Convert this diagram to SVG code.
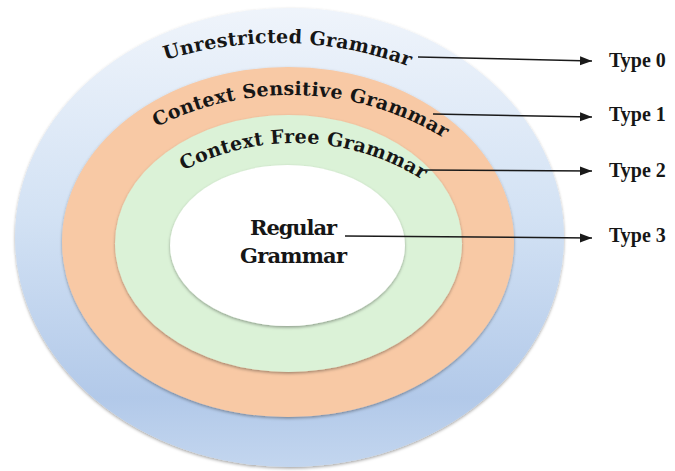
<svg xmlns="http://www.w3.org/2000/svg" width="675" height="471" viewBox="0 0 675 471">
  <style>
    .lbl { font-family: "Liberation Serif", "Times New Roman", serif; font-weight: bold; fill: #161616; }
    .arc { font-family: "DejaVu Serif", "Liberation Serif", serif; font-size: 19px; letter-spacing: 0.3px; }
    .type { font-size: 20px; }
    .inner { font-family: "DejaVu Serif", "Liberation Serif", serif; font-size: 21px; text-anchor: middle; }
    .conn { stroke: #1a1a1a; stroke-width: 1.5; fill: none; marker-end: url(#arrow); }
    .ring { filter: url(#shadow); }
  </style>
  <defs>
    <linearGradient id="blueGrad" x1="0" y1="0" x2="0" y2="1">
      <stop offset="0" stop-color="#eff4fb"/>
      <stop offset="0.45" stop-color="#d3e2f4"/>
      <stop offset="0.85" stop-color="#b2c9e9"/>
      <stop offset="1" stop-color="#c3d6ef"/>
    </linearGradient>
    <filter id="shadow" x="-10%" y="-10%" width="120%" height="125%">
      <feDropShadow dx="0" dy="1.5" stdDeviation="1.5" flood-color="#000" flood-opacity="0.35"/>
    </filter>
    <marker id="arrow" markerUnits="userSpaceOnUse" markerWidth="13" markerHeight="10" refX="12" refY="4.5" orient="auto">
      <path d="M0,0 L12,4.5 L0,9 z" fill="#1a1a1a"/>
    </marker>
    <path id="arcU" d="M-101,422 A379,379 0 0 1 657,422"/>
    <path id="arcCS" d="M-5,390 A295,295 0 0 1 585,390"/>
    <path id="arcCF" d="M57,381 A238,238 0 0 1 533,381"/>
  </defs>
  <rect width="675" height="471" fill="#ffffff"/>

  <g id="unrestricted">
    <ellipse class="ring" cx="289.5" cy="237.5" rx="274.5" ry="229.5" fill="url(#blueGrad)"/>
    <text class="lbl arc"><textPath href="#arcU" startOffset="605" text-anchor="middle">Unrestricted Grammar</textPath></text>
  </g>

  <g id="context-sensitive">
    <ellipse class="ring" cx="288" cy="242" rx="226" ry="175" fill="#f8c9a5"/>
    <text class="lbl arc"><textPath href="#arcCS" startOffset="475" text-anchor="middle">Context Sensitive Grammar</textPath></text>
  </g>

  <g id="context-free">
    <ellipse class="ring" cx="288.5" cy="243.5" rx="173.5" ry="128.5" fill="#dbf2d7"/>
    <text class="lbl arc"><textPath href="#arcCF" startOffset="383" text-anchor="middle">Context Free Grammar</textPath></text>
  </g>

  <g id="regular">
    <ellipse class="ring" cx="287.5" cy="245.5" rx="117.5" ry="80.5" fill="#ffffff"/>
    <text class="lbl inner" x="293.5" y="235" textLength="87">Regular</text>
    <text class="lbl inner" x="293.5" y="263" textLength="107">Grammar</text>
  </g>

  <g id="type0"><text class="lbl type" x="609" y="67">Type 0</text></g>
  <g id="type1"><text class="lbl type" x="609" y="121">Type 1</text></g>
  <g id="type2"><text class="lbl type" x="609" y="177">Type 2</text></g>
  <g id="type3"><text class="lbl type" x="609" y="242">Type 3</text></g>

  <g id="connectors">
    <line class="conn" x1="418" y1="57" x2="592" y2="61"/>
    <line class="conn" x1="433" y1="114" x2="592" y2="117"/>
    <line class="conn" x1="420" y1="170" x2="592" y2="171"/>
    <line class="conn" x1="345" y1="236" x2="592" y2="238"/>
  </g>
</svg>
